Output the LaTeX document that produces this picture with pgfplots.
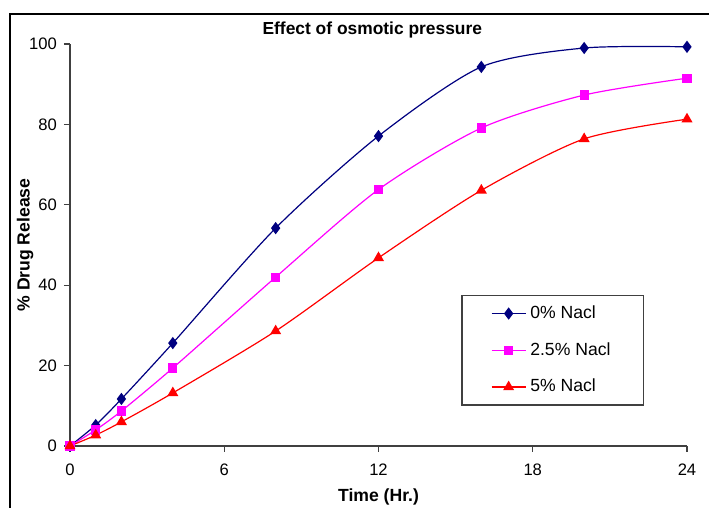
\documentclass[border=0pt]{standalone}
\usepackage{fontspec}
\setmainfont{Liberation Sans}
\usepackage{pgfplots}
\pgfplotsset{compat=1.18}

\definecolor{navyline}{HTML}{000080}
\definecolor{magline}{HTML}{FF00FF}
\definecolor{redline}{HTML}{FF0000}
\definecolor{axisgray}{HTML}{404040}

\begin{document}
\begin{tikzpicture}[x=1pt,y=1pt]
% page area and chart frame
\useasboundingbox (-35,-31) rectangle (319.5,223);
\draw[line width=1.1pt, black] (-30,-40) -- (-30,216) -- (330,216);
\begin{axis}[
  at={(0,0)}, anchor=south west,
  scale only axis,
  width=308.5pt, height=201pt,
  xmin=0, xmax=24, ymin=0, ymax=100,
  axis x line=bottom, axis y line=left,
  axis line style={axisgray, line width=0.9pt, -},
  xtick={0,6,12,18,24},
  ytick={0,20,40,60,80,100},
  tick align=outside,
  major tick length=3pt,
  tick style={axisgray, line width=0.6pt},
  tick label style={font=\fontsize{8.3}{9}\selectfont},
  xticklabel style={yshift=-2.5pt},
  /pgf/number format/assume math mode=true,
  title={\bfseries Effect of osmotic pressure},
  title style={font=\fontsize{8.7}{10}\selectfont,
    at={(axis description cs:0.49,1)}, anchor=center, yshift=1pt},
  xlabel={\bfseries Time (Hr.)},
  ylabel={\bfseries \% Drug Release},
  label style={font=\fontsize{8.8}{10}\selectfont},
  xlabel style={at={(axis description cs:0.5,0)}, anchor=center, yshift=-25.5pt},
  ylabel style={at={(axis description cs:0,0.5)}, anchor=center, yshift=22.5pt},
  clip=false,
  legend style={
    at={(0.634,0.376)}, anchor=north west,
    draw=axisgray, line width=0.8pt,
    font=\fontsize{8.8}{10}\selectfont,
    inner xsep=14.5pt, inner ysep=3pt,
    row sep=6.5pt,
    legend cell align=left,
  },
  legend image post style={line width=0.6pt},
]
\addplot[navyline, line width=0.6pt, smooth, tension=0.45,
  mark=diamond*, mark size=2.6pt, mark options={fill=navyline, solid}]
  coordinates {(0,0) (1,5.2) (2,11.7) (4,25.6) (8,54.2) (12,77.1) (16,94.3) (20,99.0) (24,99.3)};
\addlegendentry{0\% Nacl}
\addplot[magline, line width=0.6pt, smooth, tension=0.45,
  mark=square*, mark size=2.0pt, mark options={fill=magline, solid}]
  coordinates {(0,0) (1,4.0) (2,8.7) (4,19.4) (8,42.0) (12,63.8) (16,79.1) (20,87.3) (24,91.5)};
\addlegendentry{2.5\% Nacl}
\addplot[redline, line width=0.6pt, smooth, tension=0.45,
  mark=triangle*, mark size=2.6pt, mark options={fill=redline, solid}]
  coordinates {(0,0) (1,2.7) (2,6.0) (4,13.2) (8,28.6) (12,46.8) (16,63.6) (20,76.4) (24,81.3)};
\addlegendentry{5\% Nacl}
\end{axis}
\end{tikzpicture}
\end{document}
